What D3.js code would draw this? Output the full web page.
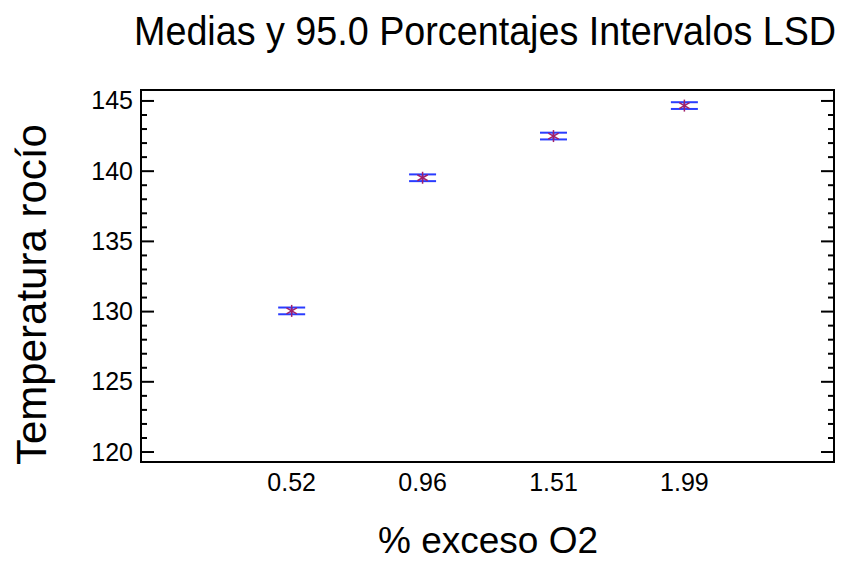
<!DOCTYPE html>
<html>
<head>
<meta charset="utf-8">
<script src="https://cdn.jsdelivr.net/npm/d3@7"></script>
<style>
  body { margin: 0; background: #fff; }
  text { font-family: "Liberation Sans", Arial, sans-serif; fill: #000; }
</style>
</head>
<body>
<script>
// data
const levels = ["0.52", "0.96", "1.51", "1.99"];
const means = [130.05, 139.53, 142.5, 144.67];
const lowerLSD = [129.81, 139.29, 142.26, 144.43];
const upperLSD = [130.29, 139.77, 142.74, 144.91];
const yMajorTicks = [120, 125, 130, 135, 140, 145];

const width = 843, height = 561;
const frame = { left: 141, top: 90, right: 834, bottom: 462 };

const svg = d3.select("body").append("svg")
  .attr("width", width)
  .attr("height", height);

// positions 1..4 for the levels
const x = d3.scaleLinear().domain([-0.151, 5.143]).range([frame.left, frame.right]);
const y = d3.scaleLinear().domain([119.29, 145.78]).range([frame.bottom, frame.top]);

// minor ticks every 1 unit
const minorTicks = d3.range(120, 146).filter(v => v % 5 !== 0);

// left and right tick marks, pointing inward
[[frame.left, 1], [frame.right, -1]].forEach(([x0, dir]) => {
  svg.append("g").selectAll("line.major")
    .data(yMajorTicks)
    .join("line")
    .attr("x1", x0).attr("x2", x0 + dir * 13)
    .attr("y1", d => y(d)).attr("y2", d => y(d))
    .attr("stroke", "#000").attr("stroke-width", 2);
  svg.append("g").selectAll("line.minor")
    .data(minorTicks)
    .join("line")
    .attr("x1", x0).attr("x2", x0 + dir * 6)
    .attr("y1", d => y(d)).attr("y2", d => y(d))
    .attr("stroke", "#000").attr("stroke-width", 2);
});

// frame
svg.append("rect")
  .attr("x", frame.left).attr("y", frame.top)
  .attr("width", frame.right - frame.left)
  .attr("height", frame.bottom - frame.top)
  .attr("fill", "none")
  .attr("stroke", "#000")
  .attr("stroke-width", 2);

// y tick labels
svg.append("g").selectAll("text")
  .data(yMajorTicks)
  .join("text")
  .attr("x", frame.left - 8)
  .attr("y", d => y(d) + 8.5)
  .attr("text-anchor", "end")
  .attr("font-size", 25)
  .text(d => d);

// x tick labels
svg.append("g").selectAll("text")
  .data(levels)
  .join("text")
  .attr("x", (d, i) => x(i + 1))
  .attr("y", 491)
  .attr("text-anchor", "middle")
  .attr("font-size", 25)
  .text(d => d);

// LSD intervals
const half = 13.5;
const g = svg.append("g");
levels.forEach((lv, i) => {
  const cx = x(i + 1);
  g.append("line")
    .attr("x1", cx).attr("x2", cx)
    .attr("y1", y(lowerLSD[i])).attr("y2", y(upperLSD[i]))
    .attr("stroke", "#2030ff").attr("stroke-width", 2);
  [lowerLSD[i], upperLSD[i]].forEach(v => {
    g.append("line")
      .attr("x1", cx - half).attr("x2", cx + half)
      .attr("y1", y(v)).attr("y2", y(v))
      .attr("stroke", "#2a3cff").attr("stroke-width", 2);
  });
  // asterisk at the mean
  const my = y(means[i]);
  const r = 6;
  [0, 60, 120].forEach(a => {
    const rad = a * Math.PI / 180;
    g.append("line")
      .attr("x1", cx - r * Math.sin(rad)).attr("x2", cx + r * Math.sin(rad))
      .attr("y1", my - r * Math.cos(rad)).attr("y2", my + r * Math.cos(rad))
      .attr("stroke", "#a0206a").attr("stroke-width", 1.5);
  });
});

// title and axis titles (the original font is a bit narrower than Arial)
svg.append("text")
  .attr("transform", "translate(134,45) scale(0.943,1)")
  .attr("font-size", 40)
  .text("Medias y 95.0 Porcentajes Intervalos LSD");

svg.append("text")
  .attr("x", 378).attr("y", 553)
  .attr("font-size", 37)
  .text("% exceso O2");

svg.append("text")
  .attr("transform", "translate(46,465) rotate(-90)")
  .attr("font-size", 42)
  .text("Temperatura rocío");
</script>
</body>
</html>
